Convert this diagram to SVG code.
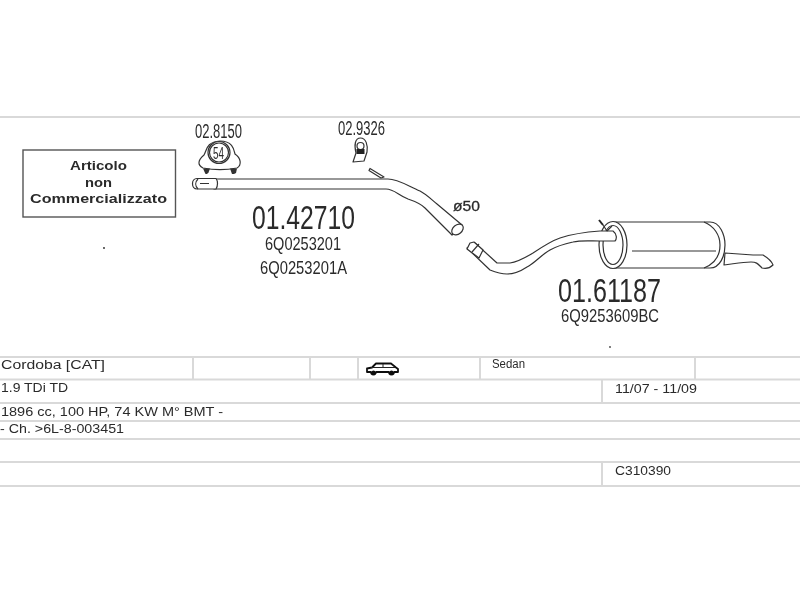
<svg xmlns="http://www.w3.org/2000/svg" width="800" height="600" viewBox="0 0 800 600">
<defs><filter id="soft" x="-5%" y="-5%" width="110%" height="110%"><feGaussianBlur stdDeviation="0.35"/></filter></defs>
<style>
text{font-family:"Liberation Sans",Arial,sans-serif;fill:#2b2b2b}
.rule{stroke:#d9d9d9;stroke-width:2;fill:none}
.ln{stroke:#333;stroke-width:1.2;fill:none}
.fw{stroke:#333;stroke-width:1.2;fill:#fff;stroke-linejoin:round}
.big{font-size:33px}
.mid{font-size:19px}
.num{font-size:20px}
.tab{font-size:12px}
.box{font-size:13px;font-weight:bold;text-anchor:middle}
</style>
<rect width="800" height="600" fill="#fff"/>
<g id="table" filter="url(#soft)">
<path class="rule" d="M0 117H800M0 357H800M0 379.500H800M0 403H800M0 421H800M0 439H800M0 462H800M0 486H800"/>
<path class="rule" d="M193 357V379M310 357V379M358 357V379M480 357V379M695 357V379M602 380V403M602 462V486"/>
<text class="tab" x="1" y="369" textLength="104" lengthAdjust="spacingAndGlyphs">Cordoba [CAT]</text>
<text class="tab" x="492" y="368" textLength="33" lengthAdjust="spacingAndGlyphs">Sedan</text>
<text class="tab" x="1" y="392" textLength="67" lengthAdjust="spacingAndGlyphs">1.9 TDi TD</text>
<text class="tab" x="615" y="393" textLength="82" lengthAdjust="spacingAndGlyphs">11/07 - 11/09</text>
<text class="tab" x="1" y="416" textLength="222" lengthAdjust="spacingAndGlyphs">1896 cc, 100 HP, 74 KW M° BMT -</text>
<text class="tab" x="0" y="433" textLength="124" lengthAdjust="spacingAndGlyphs">- Ch. &gt;6L-8-003451</text>
<text class="tab" x="615" y="475" textLength="56" lengthAdjust="spacingAndGlyphs">C310390</text>
</g>
<g id="car" filter="url(#soft)">
<path d="M367 372V368.500L372 367.500L376 363.500H391L396 367.500L398 369V372H394A2.500 2.500 0 0 1 389 372H376A2.500 2.500 0 0 1 371 372Z" fill="#fff" stroke="#111" stroke-width="1.800" stroke-linejoin="round"/>
<path d="M371 367.500H395M383 364V367.500" stroke="#222" stroke-width="1" fill="none"/>
<circle cx="373.500" cy="372.500" r="2" fill="#111"/><circle cx="391.500" cy="372.500" r="2" fill="#111"/>
</g>
<g id="note" filter="url(#soft)">
<rect x="23" y="150" width="152.500" height="67" fill="#fff" stroke="#555" stroke-width="1.400"/>
<text class="box" x="98.500" y="170" textLength="57" lengthAdjust="spacingAndGlyphs">Articolo</text>
<text class="box" x="98.500" y="187" textLength="27" lengthAdjust="spacingAndGlyphs">non</text>
<text class="box" x="98.500" y="203" textLength="137" lengthAdjust="spacingAndGlyphs">Commercializzato</text>
<circle cx="104" cy="248" r="0.900" fill="#222"/>
</g>
<g id="clamp" filter="url(#soft)">
<text class="num" x="195" y="137.500" textLength="47" lengthAdjust="spacingAndGlyphs">02.8150</text>
<path class="fw" d="M203 168C197 165 198 160 204 155C207 150 206 142 220 141C233 141 234 150 235 154C241 158 242 165 237 168C226 170 214 170 203 168Z" stroke-width="1.500"/>
<path d="M203 168.500H210L208.500 172.500L207 174H205.500Z" fill="#333"/>
<path d="M230 168.500H237L236 173L234 174H232Z" fill="#333"/>
<circle class="fw" cx="219" cy="152.500" r="11"/>
<circle class="ln" cx="219" cy="152.500" r="9.500" stroke-width=".7"/>
<text x="218.500" y="158.500" font-size="16" text-anchor="middle" textLength="11" lengthAdjust="spacingAndGlyphs">54</text>
</g>
<g id="hanger" filter="url(#soft)">
<text class="num" x="338" y="134.500" textLength="47" lengthAdjust="spacingAndGlyphs">02.9326</text>
<path class="fw" d="M353 162L356 153C354 145 355 138 360.500 138C366 138 368 145 367 152L364 161Z" stroke-width="1.600"/>
<circle class="fw" cx="360.500" cy="146" r="3.500" stroke-width="1.600"/>
<rect x="356.500" y="149" width="8" height="5" fill="#222"/>
</g>
<g id="front-pipe" filter="url(#soft)">
<path class="fw" d="M214 179H388C398 179 408 186 420 191C426 194 432 200 437 204L462 225L452 235L425 208C420 203 414 201 408 199C398 195 394 189 386 189H214Z"/>
<ellipse class="fw" cx="457.500" cy="229.500" rx="6.500" ry="4.500" transform="rotate(-40 457.500 229.500)"/>
<path class="fw" d="M216 178.500H197C191 178.500 191 189 197 189H216C218 186 218 181 216 178.500Z"/>
<path class="ln" d="M198 179C195 182 195 186 198 189M200 183.500H209"/>
<path class="fw" d="M381 178L369 170.500L370 168.500L384 177Z"/>
<text class="big" x="252" y="229" textLength="103" lengthAdjust="spacingAndGlyphs">01.42710</text>
<text class="mid" x="265" y="250" textLength="76" lengthAdjust="spacingAndGlyphs">6Q0253201</text>
<text class="mid" x="260" y="274" textLength="87" lengthAdjust="spacingAndGlyphs">6Q0253201A</text>
<text x="453" y="211" font-size="15" stroke="#2b2b2b" stroke-width=".3" textLength="27" lengthAdjust="spacingAndGlyphs">ø50</text>
</g>
<g id="rear-muffler" filter="url(#soft)">
<path class="fw" d="M725 253L753 255H763C768 258 772 262 773 265C770 268 766 269 762 268C758 264 757 262 751 262C742 262 733 264 724 265Z"/>
<path class="fw" d="M613 222H710C720 222 725 235 725 245C725 256 720 268 710 268H613Z"/>
<path class="ln" d="M704 222C714 226 720 235 720 245C720 256 714 264 704 268"/>
<path class="ln" d="M632 251H716"/>
<ellipse class="fw" cx="613" cy="245" rx="14" ry="23.500"/>
<ellipse class="ln" cx="613" cy="245" rx="10" ry="19.500"/>
<path class="fw" d="M475 243L497 263H510C518 262 526 257 533 253C542 247 551 241 560 238C572 234 586 232 600 231L613 231C617 234 617 239 615 241H600C590 241 581 240 573 242C564 244 557 246 550 250C541 255 535 263 527 267C521 271 514 274 507 274C500 274 495 272 490 270L467 248Z"/>
<path class="fw" d="M470 243L474 242L483 250L479 258L467 249Z"/>
<path class="ln" d="M479 244L472 252"/>
<path d="M599 220L603 225" stroke="#222" stroke-width="2" fill="none"/>
<path class="ln" d="M603 225L607 231M612 226L607 231"/>
<text class="big" x="558" y="302" textLength="103" lengthAdjust="spacingAndGlyphs">01.61187</text>
<text class="mid" x="561" y="322" textLength="98" lengthAdjust="spacingAndGlyphs">6Q9253609BC</text>
<circle cx="610" cy="347" r="0.900" fill="#444"/>
</g>
</svg>
